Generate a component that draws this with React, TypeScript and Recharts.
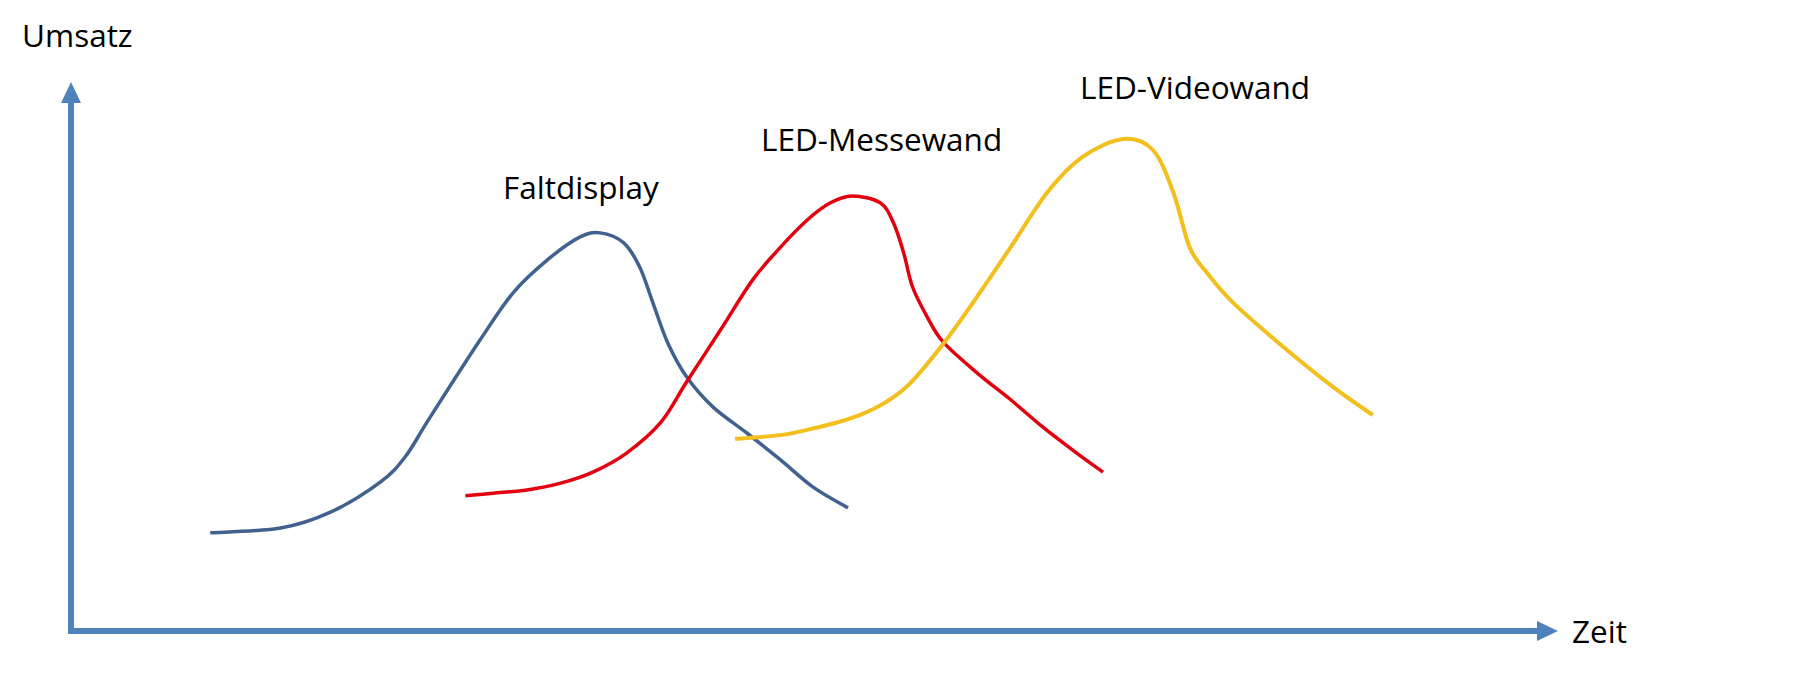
import React from "react";
import { LineChart, Line, XAxis, YAxis, ReferenceLine } from "recharts";

// Time (0-100) on the x axis, revenue (0-100) on the y axis
const faltdisplayTime = [9.5, 14.3, 17.7, 21.1, 22.8, 24.5, 27.9, 30.2, 32.5, 34.7, 36.1, 37.7, 38.8, 39.7, 40.7, 42.0, 43.8, 46.1, 48.4, 50.6, 53.0];
const faltdisplayValue = [18.6, 19.5, 22.5, 28.2, 33.0, 40.5, 55.1, 64.2, 70.3, 74.6, 75.4, 73.5, 68.9, 62.1, 54.6, 48.1, 42.4, 37.5, 32.4, 27.3, 23.3];

const messewandTime = [26.9, 28.8, 31.1, 33.4, 35.6, 37.9, 40.2, 42.0, 44.3, 46.5, 48.4, 50.2, 51.8, 53.3, 55.2, 56.1, 56.8, 57.4, 58.4, 59.5, 61.8, 64.1, 66.3, 68.6, 70.4];
const messewandValue = [25.6, 26.1, 26.7, 28.0, 30.1, 33.7, 39.4, 47.2, 57.0, 66.5, 72.7, 77.8, 81.1, 82.4, 81.1, 77.3, 71.6, 65.2, 59.5, 54.7, 48.9, 43.8, 38.6, 33.7, 30.1];

const videowandTime = [45.3, 48.4, 50.2, 52.0, 53.8, 55.5, 57.2, 59.5, 61.8, 64.1, 66.6, 69.0, 71.8, 73.8, 75.2, 76.3, 77.5, 79.3, 82.7, 86.1, 88.8];
const videowandValue = [36.4, 37.1, 38.1, 39.3, 40.9, 43.2, 46.8, 54.4, 63.3, 72.7, 83.1, 89.8, 93.2, 91.1, 83.0, 72.7, 67.8, 62.1, 53.8, 46.2, 40.9];

const seriesNames = ["Faltdisplay", "LED-Messewand", "LED-Videowand"];
const axisTitles = ["Umsatz", "Zeit"];

const toPoints = (t: number[], v: number[]) => t.map((x, i) => ({ t: x, v: v[i] }));

const faltData = toPoints(faltdisplayTime, faltdisplayValue);
const messeData = toPoints(messewandTime, messewandValue);
const videoData = toPoints(videowandTime, videowandValue);

const AXIS = "#4F81BD";
const FONT = "'Open Sans', 'Noto Sans', sans-serif";

// Catmull-Rom style smooth curve factory (d3 curve interface)
const smoothCurve: any = (context: any) => {
  let pts: number[][] = [];
  return {
    areaStart() {},
    areaEnd() {},
    lineStart() {
      pts = [];
    },
    point(x: number, y: number) {
      pts.push([+x, +y]);
    },
    lineEnd() {
      if (!pts.length) return;
      context.moveTo(pts[0][0], pts[0][1]);
      for (let i = 0; i < pts.length - 1; i++) {
        const p0 = pts[i - 1] || pts[i];
        const p1 = pts[i];
        const p2 = pts[i + 1];
        const p3 = pts[i + 2] || p2;
        context.bezierCurveTo(
          p1[0] + (p2[0] - p0[0]) / 6,
          p1[1] + (p2[1] - p0[1]) / 6,
          p2[0] - (p3[0] - p1[0]) / 6,
          p2[1] - (p3[1] - p1[1]) / 6,
          p2[0],
          p2[1]
        );
      }
    },
  };
};

const ArrowAxis = (props: any) => {
  const { x1, y1, x2, y2 } = props;
  const dx = x2 - x1;
  const dy = y2 - y1;
  const len = Math.sqrt(dx * dx + dy * dy) || 1;
  const ux = dx / len;
  const uy = dy / len;
  const nx = -uy;
  const ny = ux;
  const headLen = 21;
  const halfW = 10;
  const tipX = x2 + ux * headLen;
  const tipY = y2 + uy * headLen;
  return (
    <g>
      <line
        x1={x1 - ux * 3}
        y1={y1 - uy * 3}
        x2={x2 + ux * 1}
        y2={y2 + uy * 1}
        stroke={AXIS}
        strokeWidth={6}
      />
      <path
        d={`M${tipX},${tipY} L${x2 + nx * halfW},${y2 + ny * halfW} L${x2 - nx * halfW},${y2 - ny * halfW} Z`}
        fill={AXIS}
      />
    </g>
  );
};

export default function App() {
  const W = 1786;
  const H = 660;
  return (
    <div style={{ position: "relative", width: W, height: H }}>
      <LineChart
        width={W}
        height={H}
        margin={{ top: 95, right: 257, bottom: 37, left: 63 }}
      >
        <XAxis type="number" dataKey="t" domain={[0, 100]} allowDataOverflow hide />
        <YAxis type="number" dataKey="v" domain={[0, 100]} allowDataOverflow hide />
        <ReferenceLine
          segment={[{ x: 0, y: 0 }, { x: 100, y: 0 }]}
          ifOverflow="visible"
          shape={ArrowAxis}
        />
        <ReferenceLine
          segment={[{ x: 0, y: 0 }, { x: 0, y: 100 }]}
          ifOverflow="visible"
          shape={ArrowAxis}
        />
        <Line
          data={faltData}
          dataKey="v"
          name={seriesNames[0]}
          type={smoothCurve}
          stroke="#41628E"
          strokeWidth={3.5}
          dot={false}
          activeDot={false}
          isAnimationActive={false}
        />
        <Line
          data={messeData}
          dataKey="v"
          name={seriesNames[1]}
          type={smoothCurve}
          stroke="#E3000F"
          strokeWidth={3.5}
          dot={false}
          activeDot={false}
          isAnimationActive={false}
        />
        <Line
          data={videoData}
          dataKey="v"
          name={seriesNames[2]}
          type={smoothCurve}
          stroke="#F3BF1C"
          strokeWidth={4}
          dot={false}
          activeDot={false}
          isAnimationActive={false}
        />
      </LineChart>
      <svg
        width={W}
        height={H}
        style={{ position: "absolute", left: 0, top: 0, pointerEvents: "none" }}
      >
        <g fontFamily={FONT} fontSize={31.5} fill="#000">
          <text x={14} y={39}>{axisTitles[0]}</text>
          <text x={1564} y={635}>{axisTitles[1]}</text>
          <text x={495} y={191}>{seriesNames[0]}</text>
          <text x={753} y={143}>{seriesNames[1]}</text>
          <text x={1072} y={91}>{seriesNames[2]}</text>
        </g>
      </svg>
    </div>
  );
}
